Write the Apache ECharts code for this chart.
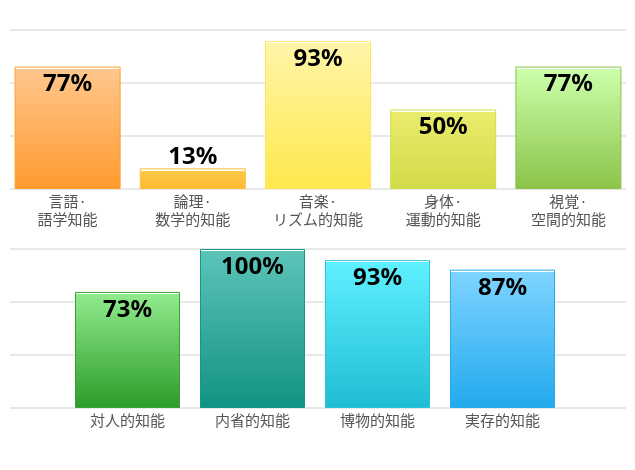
<!DOCTYPE html>
<html>
<head>
<meta charset="utf-8">
<script src="https://cdn.jsdelivr.net/npm/echarts@6/dist/echarts.min.js"></script>
<style>
  html, body { margin: 0; padding: 0; background: #fff; }
  #chart { width: 635px; height: 470px; }
</style>
</head>
<body>
<div id="chart"></div>
<script>
// 上段・下段のカテゴリと値（%）
const topCategories = ['言語·\n語学知能', '論理·\n数学的知能', '音楽·\nリズム的知能', '身体·\n運動的知能', '視覚·\n空間的知能'];
const topValues = [77, 13, 93, 50, 77];
const bottomCategories = ['対人的知能', '内省的知能', '博物的知能', '実存的知能'];
const bottomValues = [73, 100, 93, 87];

// [上の色, 下の色, 枠線]
const topColors = [
    ['#ffc78c', '#ff9a2e', '#ff9d2c'],
    ['#ffcb48', '#fdb930', '#ffbf3a'],
    ['#fff5a8', '#ffe84c', '#ffe45c'],
    ['#e9ec6c', '#d2db4a', '#d2de42'],
    ['#ccffaa', '#8bc34a', '#8bc34a']
];
const bottomColors = [
    ['#90ea8c', '#2c9c28', '#3a9e3a'],
    ['#5cc4b9', '#119282', '#15978a'],
    ['#5ef0ff', '#20bcd4', '#28c4da'],
    ['#7ed4ff', '#22a9ee', '#29abe8']
];

const plotH = 159;

function buildData(values, colors) {
    return values.map((v, i) => {
        const h = v / 100 * plotH;
        const w = Math.min(2.2 / h, 0.2);
        const c = colors[i];
        let item = {
            value: v,
            itemStyle: {
                borderColor: c[2],
                borderWidth: 1,
                color: new echarts.graphic.LinearGradient(0, 0, 0, 1, [
                    {offset: 0, color: '#ffffff'},
                    {offset: w, color: '#ffffff'},
                    {offset: w, color: c[0]},
                    {offset: 1, color: c[1]}
                ])
            }
        };
        if (v < 20) {
            // 棒が短いときは上に出す
            item.label = {position: 'top', distance: -1};
        }
        return item;
    });
}

const labelStyle = {
    show: true,
    position: 'insideTop',
    distance: 6,
    formatter: '{c}%',
    color: '#000',
    fontFamily: 'Noto Sans',
    fontWeight: 'bold',
    fontSize: 24
};

const axisLabelStyle = {
    color: '#555',
    fontFamily: 'Noto Sans CJK JP',
    fontSize: 15,
    lineHeight: 18,
    margin: 3,
    interval: 0
};

const lineY = {
    type: 'value', min: 0, max: 3, interval: 1,
    axisLabel: {show: false}, axisLine: {show: false}, axisTick: {show: false},
    splitLine: {lineStyle: {color: '#e8e8e8', width: 2}}
};
const barY = {
    type: 'value', min: 0, max: 100, show: false, splitLine: {show: false}
};
const hiddenX = {type: 'value', min: 0, max: 1, show: false, splitLine: {show: false}};

let chart = echarts.init(document.getElementById('chart'));
let option = {
    animation: false,
    grid: [
        {left: 10, right: 9, top: 30, height: plotH},
        {left: 5, right: 4, top: 30, height: plotH},
        {left: 10, right: 9, top: 249, height: plotH},
        {left: 65, right: 70, top: 249, height: plotH}
    ],
    xAxis: [
        Object.assign({gridIndex: 0}, hiddenX),
        {
            gridIndex: 1, type: 'category', data: topCategories,
            axisLine: {show: false}, axisTick: {show: false},
            axisLabel: axisLabelStyle
        },
        Object.assign({gridIndex: 2}, hiddenX),
        {
            gridIndex: 3, type: 'category', data: bottomCategories,
            axisLine: {show: false}, axisTick: {show: false},
            axisLabel: axisLabelStyle
        }
    ],
    yAxis: [
        Object.assign({gridIndex: 0}, lineY),
        Object.assign({gridIndex: 1}, barY),
        Object.assign({gridIndex: 2}, lineY),
        Object.assign({gridIndex: 3}, barY)
    ],
    series: [
        {
            type: 'bar', xAxisIndex: 1, yAxisIndex: 1,
            barWidth: 106,
            data: buildData(topValues, topColors),
            label: labelStyle
        },
        {
            type: 'bar', xAxisIndex: 3, yAxisIndex: 3,
            barWidth: 105,
            data: buildData(bottomValues, bottomColors),
            label: labelStyle
        }
    ]
};
chart.setOption(option);
</script>
</body>
</html>
